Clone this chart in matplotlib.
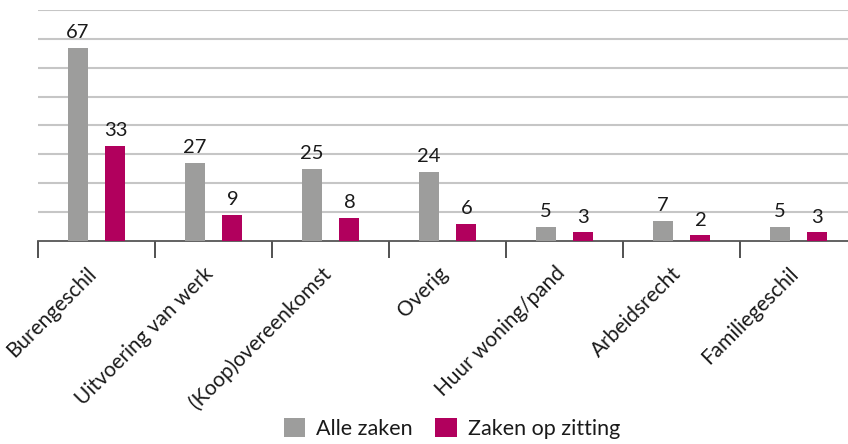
import numpy as np
import matplotlib.pyplot as plt
import matplotlib.transforms as mtransforms

# =========================================================
# DATA
# =========================================================

categories = [
    "Burengeschil",
    "Uitvoering van werk",
    "(Koop)overeenkomst",
    "Overig",
    "Huur woning/pand",
    "Arbeidsrecht",
    "Familiegeschil",
]

alle_zaken = [67, 27, 25, 24, 5, 7, 5]
zaken_op_zitting = [33, 9, 8, 6, 3, 2, 3]

series_names = ["Alle zaken", "Zaken op zitting"]

# =========================================================
# STYLE
# =========================================================

GREY = "#9d9d9c"
MAGENTA = "#b1005d"
GRID = "#c6c6c6"
TEXT = "#1a1a1a"

plt.rcParams["font.family"] = ["Lato", "DejaVu Sans"]

# =========================================================
# FIGURE
# =========================================================

fig = plt.figure(figsize=(8.48, 4.44), dpi=100)
ax = fig.add_axes([38 / 848, 1 - 241 / 444, 819 / 848, 231 / 444])

x = np.arange(len(categories))
width = 0.171
offset = 0.162

bars_a = ax.bar(x - offset, alle_zaken, width, color=GREY, label=series_names[0], zorder=3)
bars_z = ax.bar(x + offset, zaken_op_zitting, width, color=MAGENTA, label=series_names[1], zorder=3)

for bars in (bars_a, bars_z):
    for b in bars:
        ax.text(
            b.get_x() + b.get_width() / 2,
            b.get_height() + 2.3,
            f"{int(b.get_height())}",
            ha="center",
            va="bottom",
            fontsize=14.5,
            color=TEXT,
            zorder=4,
        )

ax.set_xlim(-0.5, len(categories) - 0.5)
ax.set_ylim(0, 80)

ax.set_yticks(np.arange(10, 81, 10))
ax.yaxis.grid(True, color=GRID, linewidth=1.5, zorder=0)
ax.tick_params(axis="y", left=False, labelleft=False)

ax.set_xticks(x)
ax.set_xticklabels(categories, rotation=45, ha="right", va="top",
                   rotation_mode="anchor", fontsize=15, color=TEXT)
ax.tick_params(axis="x", which="major", length=0, pad=16)
ax.set_xticks(np.arange(-0.5, len(categories) - 0.5, 1), minor=True)
ax.tick_params(axis="x", which="minor", length=12, width=1.2, color="#333333")

# shift category labels slightly left
shift = mtransforms.ScaledTranslation(-10 / 100, 0, fig.dpi_scale_trans)
for lbl in ax.get_xticklabels():
    lbl.set_transform(lbl.get_transform() + shift)

for side in ("top", "right", "left"):
    ax.spines[side].set_visible(False)
ax.spines["bottom"].set_color("#555555")
ax.spines["bottom"].set_linewidth(1.3)

fig.legend(
    handles=[bars_a, bars_z],
    labels=series_names,
    loc="lower center",
    bbox_to_anchor=(0.533, -0.032),
    ncol=2,
    frameon=False,
    fontsize=15.5,
    handlelength=1.0,
    handleheight=1.0,
    handletextpad=0.5,
    columnspacing=1.05,
    labelcolor=TEXT,
)

fig.savefig("out.png", dpi=100)
